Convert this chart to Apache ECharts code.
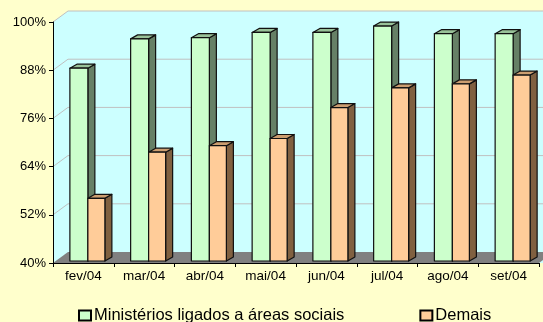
<!DOCTYPE html>
<html>
<head>
<meta charset="utf-8">
<script src="https://cdn.jsdelivr.net/npm/echarts@6/dist/echarts.min.js"></script>
<style>
  html, body { margin: 0; padding: 0; background: #FFFFCC; }
  #chart { width: 543px; height: 322px; }
</style>
</head>
<body>
<div id="chart"></div>
<script>
const categories = ['fev/04', 'mar/04', 'abr/04', 'mai/04', 'jun/04', 'jul/04', 'ago/04', 'set/04'];
const ministerios = [88.0, 95.3, 95.6, 96.9, 96.9, 98.5, 96.6, 96.6];
const demais = [55.6, 67.1, 68.7, 70.5, 78.2, 83.1, 84.1, 86.3];
const yTicks = [40, 52, 64, 76, 88, 100];

const FONT = '"Liberation Sans", Arial, sans-serif';
const DEPTH_X = 15, DEPTH_Y = -11;   // wall depth
const BAR_DX = 7, BAR_DY = -4;       // bar depth

// wall, gridlines and floor drawn through the axis scales
const renderWall = (params, api) => {
  const bw = api.size([1, 0])[0];
  const first = api.coord([0, 100]);
  const last = api.coord([categories.length - 1, 40]);
  const x0 = first[0] - bw / 2;
  const x1 = last[0] + bw / 2;
  const yTop = first[1];
  const yBot = last[1];
  const children = [];
  children.push({
    type: 'polygon',
    shape: { points: [[x0, yTop], [x0 + DEPTH_X, yTop + DEPTH_Y], [x1 + DEPTH_X, yTop + DEPTH_Y], [x1 + DEPTH_X, yBot], [x0, yBot]] },
    style: { fill: '#CCFFFF' }
  });
  yTicks.forEach(v => {
    if (v === 40) return;
    const y = api.coord([0, v])[1];
    children.push({
      type: 'polyline',
      shape: { points: [[x0, y], [x0 + DEPTH_X, y + DEPTH_Y], [x1 + DEPTH_X, y + DEPTH_Y]] },
      style: { stroke: '#C0C0C0', lineWidth: 1, fill: null }
    });
  });
  children.push({
    type: 'polygon',
    shape: { points: [[x0, yBot], [x0 + DEPTH_X, yBot + DEPTH_Y], [x1 + DEPTH_X, yBot + DEPTH_Y], [x1, yBot]] },
    style: { fill: '#808080' }
  });
  return { type: 'group', children: children };
};

const makeBarRenderer = (leftFrac, rightFrac, colors) => (params, api) => {
  const bw = api.size([1, 0])[0];
  const c = api.coord([api.value(0), api.value(1)]);
  const base = api.coord([api.value(0), 40]);
  const l = c[0] + leftFrac * bw;
  const r = c[0] + rightFrac * bw;
  const top = c[1] - 2;
  const bot = base[1] - 2;
  const stroke = { stroke: '#111', lineWidth: 1.2, lineJoin: 'round' };
  return {
    type: 'group',
    children: [
      { type: 'polygon', shape: { points: [[r, top], [r + BAR_DX, top + BAR_DY], [r + BAR_DX, bot + BAR_DY], [r, bot]] },
        style: Object.assign({ fill: colors.side }, stroke) },
      { type: 'polygon', shape: { points: [[l, top], [l + BAR_DX, top + BAR_DY], [r + BAR_DX, top + BAR_DY], [r, top]] },
        style: Object.assign({ fill: colors.top }, stroke) },
      { type: 'rect', shape: { x: l, y: top, width: r - l, height: bot - top },
        style: Object.assign({ fill: colors.front }, stroke) }
    ]
  };
};

const chart = echarts.init(document.getElementById('chart'));

const option = {
  animation: false,
  backgroundColor: '#FFFFCC',
  textStyle: { fontFamily: FONT },
  grid: { left: 53, right: 4, top: 22, bottom: 59 },
  legend: {
    left: 78,
    top: 307,
    padding: 0,
    itemWidth: 12,
    itemHeight: 10,
    itemGap: 75,
    icon: 'rect',
    textStyle: { fontFamily: FONT, fontSize: 16.5, color: '#000', padding: [0, 0, 0, -2] },
    data: ['Ministérios ligados a áreas sociais', 'Demais']
  },
  xAxis: {
    type: 'category',
    data: categories,
    z: 10,
    axisLine: { lineStyle: { color: '#000', width: 1 } },
    axisTick: { show: true, length: 4, lineStyle: { color: '#000' } },
    axisLabel: { fontFamily: FONT, fontSize: 13.5, color: '#000', margin: 6 },
    splitLine: { show: false }
  },
  yAxis: {
    type: 'value',
    min: 40,
    max: 100,
    interval: 12,
    z: 10,
    axisLine: { show: true, lineStyle: { color: '#000', width: 1 } },
    axisTick: { show: true, length: 4, lineStyle: { color: '#000' } },
    axisLabel: { fontFamily: FONT, fontSize: 13, color: '#000', margin: 7, formatter: '{value}%' },
    splitLine: { show: false }
  },
  series: [
    {
      type: 'custom',
      name: 'wall',
      z: 1,
      silent: true,
      renderItem: renderWall,
      data: [[0, 40]]
    },
    {
      type: 'custom',
      name: 'Ministérios ligados a áreas sociais',
      z: 3,
      itemStyle: { color: '#CCFFCC', borderColor: '#000', borderWidth: 1 },
      renderItem: makeBarRenderer(-0.222, 0.074, { front: '#CCFFCC', side: '#668066', top: '#99C299' }),
      data: ministerios.map((v, i) => [i, v])
    },
    {
      type: 'custom',
      name: 'Demais',
      z: 4,
      itemStyle: { color: '#FFCC99', borderColor: '#000', borderWidth: 1 },
      renderItem: makeBarRenderer(0.074, 0.354, { front: '#FFCC99', side: '#806040', top: '#CC9E70' }),
      data: demais.map((v, i) => [i, v])
    }
  ]
};

chart.setOption(option);
</script>
</body>
</html>
